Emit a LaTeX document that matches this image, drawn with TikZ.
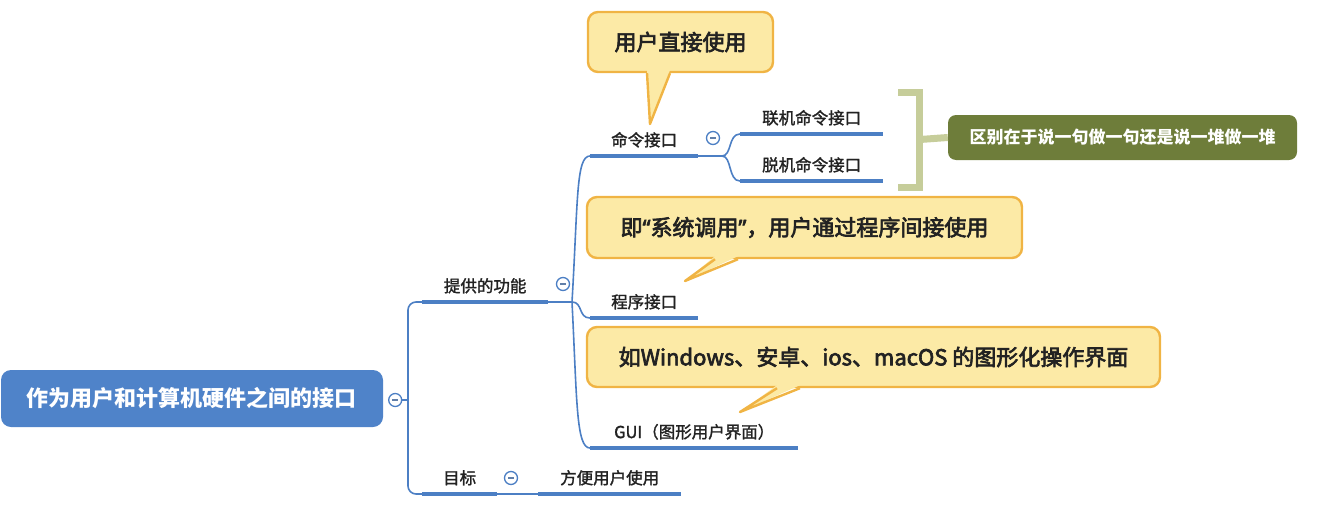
\documentclass[tikz,border=0pt]{standalone}
\usepackage{fontspec}
\setmainfont{Noto Sans CJK SC}
\newfontfamily\medium[FakeBold=1.6]{Noto Sans CJK SC}
\newfontfamily\semibold[FakeBold=3]{Noto Sans CJK SC}
\newfontfamily\latinquote[FakeBold=3]{Noto Sans}
\usetikzlibrary{calc}
\definecolor{rootblue}{HTML}{4F83C9}
\definecolor{linkblue}{HTML}{4C7FC4}
\definecolor{callfill}{HTML}{FCEAA6}
\definecolor{callline}{HTML}{F0B444}
\definecolor{notegreen}{HTML}{6E7D3A}
\definecolor{bracketgreen}{HTML}{C6CD9A}
\definecolor{ink}{HTML}{222222}
\begin{document}
\begin{tikzpicture}[x=1pt,y=-1pt,
  branch/.style={draw=linkblue, line width=1.6pt},
  uline/.style={draw=linkblue, line width=4.5pt},
  topic/.style={inner sep=0pt, minimum height=32pt, anchor=south west,
    text=ink, font=\fontsize{16.5}{18}\medium},
  rootbox/.style={fill=rootblue, rounded corners=10pt, inner sep=0pt,
    text=white, font=\fontsize{22}{24}\selectfont\bfseries},
  callout/.style={fill=callfill, draw=callline, line width=2.4pt,
    rounded corners=10pt, inner sep=0pt, text=ink,
    font=\fontsize{22}{24}\semibold},
  note/.style={fill=notegreen, rounded corners=8pt, inner sep=0pt,
    text=white, font=\fontsize{17}{19}\selectfont\bfseries},
  collapse/.style={circle, draw=linkblue, fill=white, line width=1.3pt,
    minimum size=13pt, inner sep=0pt,
    path picture={\draw[linkblue!60!gray, line width=1.3pt]
      ([xshift=-3pt]path picture bounding box.center) --
      ([xshift=3pt]path picture bounding box.center);}},
  brace/.style={draw=bracketgreen, line width=7pt}
]
\useasboundingbox (0,0) rectangle (1317,530);

% root topic
\node[rootbox, minimum width=382pt, minimum height=57pt] (root) at (192,398.5)
  {作为用户和计算机硬件之间的接口};
\coordinate (trunk) at (408,400);

% first level
\node[topic, minimum width=126pt] (f1) at (422,302) {提供的功能};
\node[topic, minimum width=75pt] (f2) at (422,494) {目标};
\coordinate (h1) at (572,302);

% second level
\node[topic, minimum width=108pt] (k1) at (590,156) {命令接口};
\node[topic, minimum width=108pt] (k2) at (590,318) {程序接口};
\node[topic, minimum width=208pt] (k3) at (590,448) {GUI（图形用户界面）};
\node[topic, minimum width=143pt] (t1) at (538,494) {方便用户使用};
\coordinate (h2) at (722,156);

% third level
\node[topic, minimum width=143pt] (m1) at (740,134) {联机命令接口};
\node[topic, minimum width=143pt] (m2) at (740,181) {脱机命令接口};

% connectors
\draw[branch] (root.east) ++(12,1.5) coordinate (c0pos) -- (trunk);
\draw[branch, rounded corners=8pt] (trunk) |- (f1.south west);
\draw[branch, rounded corners=8pt] (trunk) |- (f2.south west);
\draw[branch] (f1.south east) -- (h1);
\draw[branch] (h1) .. controls (578,200) and (576,156) .. (k1.south west);
\draw[branch] (h1) .. controls (583,302) and (578,318) .. (k2.south west);
\draw[branch] (h1) .. controls (577,400) and (576,448) .. (k3.south west);
\draw[branch] (f2.south east) -- (t1.south west);
\draw[branch] (k1.south east) -- (h2);
\draw[branch] (h2) .. controls (732,156) and (728,134) .. (m1.south west);
\draw[branch] (h2) .. controls (732,156) and (728,181) .. (m2.south west);

% underlines
\foreach \n in {f1,f2,k1,k2,k3,t1,m1,m2}
  \draw[uline] (\n.south west) -- (\n.south east);

% collapse markers, drawn above the lines
\node[collapse] (c0) at (c0pos) {};
\node[collapse] (c1) at (563,284) {};
\node[collapse] (c2) at (713,138) {};
\node[collapse] (c3) at (511,478) {};

% summary bracket and note
\node[note, minimum width=349pt, minimum height=45pt] (g) at (1122.5,137.5)
  {区别在于说一句做一句还是说一堆做一堆};
\coordinate (b1) at ($(m1.south east)+(15,-42)$);
\coordinate (b2) at ($(m2.south east)+(15,6)$);
\draw[brace] (b1) -- ++(21.5,0) |- (b2);
\draw[brace] ($(b1)!0.5!(b2)+(21.5,0)$) -- (g.west);

% callouts
\node[callout, minimum width=185pt, minimum height=60pt] (q1) at (680.5,42)
  {用户直接使用};
\coordinate (q1tip) at (650,124);
\fill[callfill] ($(q1.south)+(-33.5,-3)$) -- (q1tip) -- ($(q1.south)+(-10.5,-3)$) -- cycle;
\draw[callline, line width=2.4pt, line join=round]
  ($(q1.south)+(-33.5,0)$) -- (q1tip) -- ($(q1.south)+(-10.5,0)$);

\node[callout, minimum width=435pt, minimum height=61pt] (q2) at (804.5,227.5)
  {即{\latinquote “}系统调用{\latinquote ”}，用户通过程序间接使用};
\coordinate (q2tip) at (685,281);
\fill[callfill] ($(q2.south)+(-89.5,-3)$) -- (q2tip) -- ($(q2.south)+(-66.5,-3)$) -- cycle;
\draw[callline, line width=2.4pt, line join=round]
  ($(q2.south)+(-89.5,0)$) -- (q2tip) -- ($(q2.south)+(-66.5,0)$);

\node[callout, minimum width=573pt, minimum height=60pt] (q3) at (873.5,357)
  {如Windows、安卓、ios、macOS 的图形化操作界面};
\coordinate (q3tip) at (740,412);
\fill[callfill] ($(q3.south)+(-96.5,-3)$) -- (q3tip) -- ($(q3.south)+(-73.5,-3)$) -- cycle;
\draw[callline, line width=2.4pt, line join=round]
  ($(q3.south)+(-96.5,0)$) -- (q3tip) -- ($(q3.south)+(-73.5,0)$);
\end{tikzpicture}
\end{document}
